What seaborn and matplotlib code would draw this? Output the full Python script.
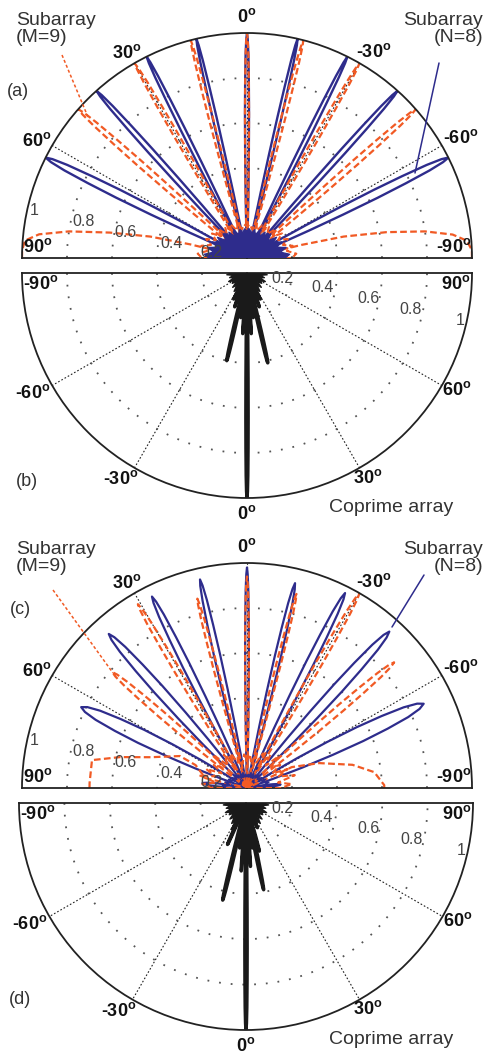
import numpy as np
import pandas as pd
import matplotlib
matplotlib.use('Agg')
import matplotlib.pyplot as plt
from matplotlib.lines import Line2D
import seaborn as sns

sns.set_style('white')
plt.rcParams['font.family'] = ['Liberation Sans', 'DejaVu Sans']

# ---------------- data ----------------
# shape of one beam lobe: offset (in units of the null half-width) and relative level
lobe_offset = [-1, -0.875, -0.75, -0.625, -0.5, -0.375, -0.25, -0.125, 0,
               0.125, 0.25, 0.375, 0.5, 0.625, 0.75, 0.875, 1]
lobe_level = [0, 0.14, 0.30, 0.47, 0.64, 0.78, 0.90, 0.97, 1,
              0.97, 0.90, 0.78, 0.64, 0.47, 0.30, 0.14, 0]

hub_angle = list(range(-90, 91, 5))

# panel (a): ideal subarrays
a_blue_angle = [-63.5, -42, -26.5, -13, 0, 13, 26.5, 42, 63.5]
a_blue_peak = [1, 1, 1, 1, 1, 1, 1, 1, 1]
a_blue_width = [3.5, 2.2, 1.8, 1.6, 1.6, 1.6, 1.8, 2.2, 3.5]
a_orange_angle = [-48.6, -30, -14.5, 0, 14.5, 30, 48.6]
a_orange_peak = [1, 1, 1, 1, 1, 1, 1]
a_orange_width = [2.4, 1.9, 1.65, 1.6, 1.65, 1.9, 2.4]
a_end_left_angle = [90, 88, 85.5, 83.5, 81.5, 79.5, 77.5, 76.5, 76.3]
a_end_left_r = [1.0, 1.0, 0.99, 0.93, 0.80, 0.62, 0.44, 0.26, 0]
a_end_right_angle = [-90, -88, -85.5, -83.5, -81.5, -79.5, -77.5, -76.5, -76.3]
a_end_right_r = [1.0, 1.0, 0.98, 0.92, 0.80, 0.63, 0.44, 0.25, 0]
a_blue_hub_r = [0.17, 0.19, 0.15, 0.18, 0.14, 0.17, 0.13, 0.16, 0.12, 0.15, 0.12, 0.14,
                0.11, 0.14, 0.11, 0.13, 0.11, 0.13, 0.12, 0.13, 0.11, 0.13, 0.11, 0.14,
                0.11, 0.14, 0.12, 0.15, 0.12, 0.16, 0.13, 0.17, 0.14, 0.18, 0.15, 0.19, 0.17]
a_orange_hub_r = [0.20, 0.22, 0.18, 0.21, 0.17, 0.20, 0.16, 0.19, 0.15, 0.18, 0.14, 0.17,
                  0.14, 0.16, 0.13, 0.16, 0.13, 0.15, 0.14, 0.15, 0.13, 0.16, 0.13, 0.16,
                  0.14, 0.17, 0.14, 0.18, 0.15, 0.19, 0.16, 0.20, 0.17, 0.21, 0.18, 0.22, 0.20]

# panel (b): coprime array (ideal)
b_angle = [-27, -20, -13, -8, -4, 0, 4, 8, 13, 20, 27]
b_peak = [0.13, 0.16, 0.40, 0.20, 0.27, 1.0, 0.27, 0.20, 0.41, 0.16, 0.13]
b_width = [1.5, 1.5, 1.6, 1.2, 1.0, 0.9, 1.0, 1.2, 1.6, 1.5, 1.5]
b_hub_r = [0.07, 0.09, 0.06, 0.08, 0.06, 0.09, 0.07, 0.08, 0.06, 0.09, 0.07, 0.10,
           0.08, 0.10, 0.08, 0.11, 0.09, 0.10, 0.09, 0.10, 0.09, 0.11, 0.08, 0.10,
           0.08, 0.10, 0.07, 0.09, 0.06, 0.08, 0.07, 0.09, 0.06, 0.08, 0.06, 0.09, 0.07]

# panel (c): perturbed subarrays
c_blue_angle = [-84, -64.5, -42.3, -26.7, -13.2, 0, 12.7, 26.4, 41.9, 64, 84]
c_blue_peak = [0.15, 0.87, 0.94, 0.97, 0.935, 0.98, 0.95, 0.95, 0.92, 0.82, 0.20]
c_blue_width = [6, 7, 4.5, 3.2, 2.6, 1.5, 2.6, 3.2, 4.5, 7, 6]
c_orange_angle = [-49.5, -30, -14.3, 0, 14.7, 30.7, 49.3]
c_orange_peak = [0.86, 1.0, 0.89, 0.94, 0.87, 0.95, 0.79]
c_orange_width = [3.5, 2.5, 2.0, 1.6, 2.0, 2.5, 3.5]
c_end_left_angle = [90, 88.2, 79.8, 76.3, 72.3, 64.5, 66, 76.6, 78]
c_end_left_r = [0.70, 0.70, 0.70, 0.58, 0.45, 0.33, 0.25, 0.19, 0]
c_end_right_angle = [-90, -88.8, -82.9, -77.6, -71, -65, -62]
c_end_right_r = [0.61, 0.61, 0.57, 0.48, 0.34, 0.22, 0]
c_orange_hub_r = [0.15, 0.20, 0.14, 0.22, 0.15, 0.20, 0.13, 0.18, 0.14, 0.20, 0.13, 0.18,
                  0.12, 0.17, 0.12, 0.16, 0.11, 0.15, 0.12, 0.15, 0.11, 0.16, 0.12, 0.17,
                  0.12, 0.18, 0.13, 0.20, 0.14, 0.18, 0.13, 0.20, 0.15, 0.22, 0.14, 0.20, 0.15]
c_blue_hub_r = [0.09, 0.11, 0.08, 0.10, 0.07, 0.09, 0.06, 0.08, 0.06, 0.08, 0.06, 0.07,
                0.05, 0.07, 0.05, 0.07, 0.05, 0.06, 0.05, 0.06, 0.05, 0.07, 0.05, 0.07,
                0.05, 0.07, 0.06, 0.08, 0.06, 0.08, 0.06, 0.09, 0.07, 0.10, 0.08, 0.11, 0.09]

# panel (d): coprime array (perturbed)
d_angle = [-27, -24, -13.5, -8, -4, 0, 4, 8, 11.5, 15.5, 25]
d_peak = [0.13, 0.20, 0.44, 0.20, 0.30, 1.0, 0.28, 0.20, 0.39, 0.22, 0.12]
d_width = [1.5, 1.5, 1.6, 1.2, 1.0, 0.9, 1.0, 1.2, 1.6, 1.5, 1.5]
d_hub_r = [0.08, 0.10, 0.07, 0.09, 0.07, 0.10, 0.08, 0.09, 0.07, 0.10, 0.08, 0.11,
           0.09, 0.11, 0.09, 0.12, 0.10, 0.11, 0.10, 0.11, 0.10, 0.12, 0.09, 0.11,
           0.09, 0.11, 0.08, 0.10, 0.07, 0.09, 0.08, 0.10, 0.07, 0.09, 0.07, 0.10, 0.08]

radial_ticks = ['0.2', '0.4', '0.6', '0.8', '1']
angle_ticks = ['-90', '-60', '-30', '0', '30', '60', '90']

BLUE = '#2e2c8c'
ORANGE = '#f15a24'
BLACK = '#1a1a1a'

W, H = 484, 1054
fig = plt.figure(figsize=(W / 100, H / 100), dpi=100)


def lobes_frame(angles, peaks, widths, extra=()):
    rows = []
    for i, (c, p, w) in enumerate(zip(angles, peaks, widths)):
        for o, l in zip(lobe_offset, lobe_level):
            rows.append((i, np.deg2rad(c + o * w), p * l))
    k = len(angles)
    for j, (ang, rr) in enumerate(extra):
        for a_, r_ in zip(ang, rr):
            rows.append((k + j, np.deg2rad(a_), r_))
    return pd.DataFrame(rows, columns=['lobe', 'theta', 'r'])


def draw(ax, df, color, lw, ls='-'):
    sns.lineplot(data=df, x='theta', y='r', units='lobe', estimator=None, sort=False,
                 color=color, linewidth=lw, linestyle=ls, ax=ax, legend=False)


def hub(ax, radii, color, fill=True, ls='-', lw=1.0):
    th = np.deg2rad([-90] + hub_angle + [90])
    rr = [0] + radii + [0]
    if fill:
        ax.fill(th, rr, color=color, lw=0, zorder=4)
    ax.plot(th, rr, color=color, lw=lw, linestyle=ls, zorder=4)


def make_polar(cx, cy, R, zero):
    # the half disk is fitted into a square box, centred vertically
    if zero == 'N':
        mid = cy - R / 2
    else:
        mid = cy + R / 2
    rect = [(cx - R) / W, (H - (mid + R)) / H, 2 * R / W, 2 * R / H]
    ax = fig.add_axes(rect, projection='polar')
    ax.set_theta_zero_location(zero)
    ax.set_theta_direction(1)
    ax.set_thetamin(-90)
    ax.set_thetamax(90)
    ax.set_thetagrids([-60, -30, 0, 30, 60], labels=[''] * 5)
    ax.set_rgrids([0.2, 0.4, 0.6, 0.8], labels=[''] * 4)
    ax.xaxis.grid(True, color='#222222', linestyle=(0, (1.5, 1.8)), lw=0.8)
    ax.yaxis.grid(True, color='#555555', linestyle=(0, (1, 5.5)), lw=1.3)
    for s in ['polar', 'start', 'end']:
        ax.spines[s].set_color('#222222')
        ax.spines[s].set_linewidth(1.3)
    ax.spines['inner'].set_visible(False)
    ax.set_facecolor('white')
    return ax


def finish(ax, rsign):
    ax.set_rlim(0, 1)
    ax.set_xlabel('')
    ax.set_ylabel('')
    ang_pos = {'-90': (-87, 0.92), '-60': (-60.8, 1.09), '-30': (-31.5, 1.075),
               '0': (0, 1.07), '30': (30.5, 1.055), '60': (60.8, 1.07), '90': (87, 0.93)}
    for lab in angle_ticks:
        t, r = ang_pos[lab]
        ax.text(np.deg2rad(t), r, lab + '$^{\\mathregular{o}}$', ha='center', va='center',
                fontsize=13, fontweight='bold', color='#111111', clip_on=False)
    rl_t = [82, 79, 78, 77.5, 77.5]
    rl_r = [0.16, 0.34, 0.55, 0.745, 0.97]
    for lab, t, r in zip(radial_ticks, rl_t, rl_r):
        ax.text(np.deg2rad(rsign * t), r, lab, ha='center', va='center', fontsize=11.5,
                color='#444444', clip_on=False, zorder=6)


def px(x, y):
    return x / W, 1 - y / H


# ---------------- panel (a) ----------------
ax = make_polar(247, 258, 225, 'N')
draw(ax, lobes_frame(a_blue_angle, a_blue_peak, a_blue_width), BLUE, 1.7)
hub(ax, a_orange_hub_r, ORANGE, fill=False, ls=(0, (3, 1.5)), lw=1.5)
draw(ax, lobes_frame(a_orange_angle, a_orange_peak, a_orange_width,
                     [(a_end_left_angle, a_end_left_r), (a_end_right_angle, a_end_right_r)]),
     ORANGE, 1.6, (0, (3, 1.5)))
hub(ax, a_blue_hub_r, BLUE)
finish(ax, 1)

# ---------------- panel (b) ----------------
ax = make_polar(247, 273, 225, 'S')
draw(ax, lobes_frame(b_angle, b_peak, b_width), BLACK, 2.5)
hub(ax, b_hub_r, BLACK)
finish(ax, 1)

# ---------------- panel (c) ----------------
ax = make_polar(247, 788, 225, 'N')
draw(ax, lobes_frame(c_blue_angle, c_blue_peak, c_blue_width), BLUE, 1.6)
hub(ax, c_blue_hub_r, BLUE, fill=False, lw=1.3)
hub(ax, c_orange_hub_r, ORANGE, fill=False, ls=(0, (3, 1.5)), lw=1.5)
draw(ax, lobes_frame(c_orange_angle, c_orange_peak, c_orange_width,
                     [(c_end_left_angle, c_end_left_r), (c_end_right_angle, c_end_right_r)]),
     ORANGE, 1.6, (0, (3, 1.5)))
finish(ax, 1)

# ---------------- panel (d) ----------------
ax = make_polar(246, 803, 227, 'S')
draw(ax, lobes_frame(d_angle, d_peak, d_width), BLACK, 2.5)
hub(ax, d_hub_r, BLACK)
finish(ax, 1)

# ---------------- annotations ----------------
for (x, y, s) in [(18, 92, '(a)'), (27, 481, '(b)'), (20, 609, '(c)'), (20, 1000, '(d)')]:
    fig.text(*px(x, y), s, ha='center', va='center', fontsize=13, color='#333333')

for y0 in [12, 541]:
    fig.text(*px(16, y0), 'Subarray\n(M=9)', ha='left', va='top', fontsize=14,
             color='#333333', linespacing=1.0)
    fig.text(*px(483, y0), 'Subarray\n(N=8)', ha='right', va='top', fontsize=14,
             color='#333333', linespacing=1.0, multialignment='right')

for (x, y) in [(391, 508), (391, 1040)]:
    fig.text(*px(x, y), 'Coprime array', ha='center', va='center', fontsize=14,
             color='#333333')

leaders = [((62, 55), (88, 117), ORANGE, (0, (2, 1.5))),
           ((439, 63), (415, 173), BLUE, '-'),
           ((53, 590), (113, 673), ORANGE, (0, (2, 1.5))),
           ((424, 575), (392, 627), BLUE, '-')]
for (p0, p1, col, ls) in leaders:
    x0, y0 = px(*p0)
    x1, y1 = px(*p1)
    fig.add_artist(Line2D([x0, x1], [y0, y1], transform=fig.transFigure,
                          color=col, lw=1.1, linestyle=ls))

fig.savefig('out.png', dpi=100)
